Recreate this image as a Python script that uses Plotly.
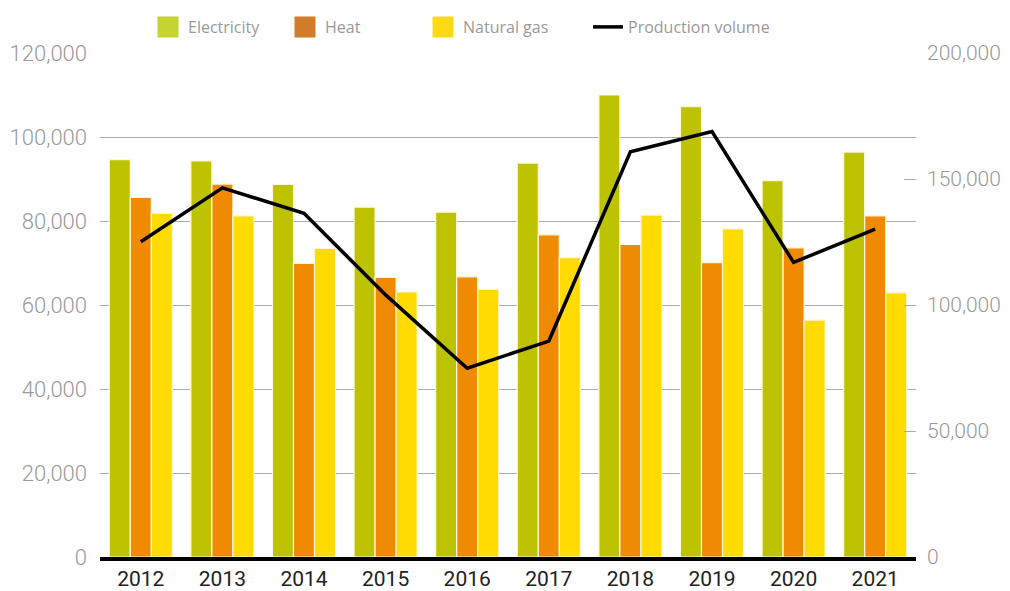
import plotly.graph_objects as go

years = ["2012", "2013", "2014", "2015", "2016", "2017", "2018", "2019", "2020", "2021"]
electricity = [94600, 94300, 88700, 83300, 82100, 93800, 110000, 107200, 89600, 96400]
heat = [85600, 88800, 69900, 66600, 66700, 76700, 74400, 70100, 73600, 81200]
natural_gas = [81800, 81200, 73500, 63100, 63700, 71300, 81400, 78100, 56400, 62900]
production_volume = [125100, 146500, 136400, 104000, 74900, 85700, 160800, 168800, 116900, 130100]

left_ticks = [0, 20000, 40000, 60000, 80000, 100000, 120000]
right_ticks = [0, 50000, 100000, 150000, 200000]

bar_colors = {"Electricity": "#BDC300", "Heat": "#F08A00", "Natural gas": "#FFDB00"}
legend_colors = {"Electricity": "#C5D42E", "Heat": "#D27D2A", "Natural gas": "#FDD916"}

# the page body adds an 8px margin; the figure is sized to fit the window
W, H = 1002, 583
L, R, T, B = 92, 94, 45, 34

def cx(px):
    return px / W

def cy(py):
    return 1 - py / H

fig = go.Figure()

series = [("Electricity", electricity), ("Heat", heat), ("Natural gas", natural_gas)]
for name, vals in series:
    fig.add_trace(go.Bar(
        x=years, y=vals, name=name, showlegend=False,
        marker=dict(color=bar_colors[name], line=dict(color="#FFF6D8", width=1.2)),
        hoverinfo="x+y",
    ))

fig.add_trace(go.Scatter(
    x=years, y=production_volume, name="Production volume", yaxis="y2",
    mode="lines", line=dict(color="#000000", width=3.5), legend="legend4",
))

legend_names = ["Electricity", "Heat", "Natural gas"]
legend_ids = ["legend", "legend2", "legend3"]
for name, lid in zip(legend_names, legend_ids):
    fig.add_trace(go.Scatter(
        x=[None], y=[None], name=name, mode="markers", legend=lid,
        marker=dict(symbol="square", size=16, color=legend_colors[name],
                    line=dict(color=legend_colors[name], width=5)),
    ))

leg_font = dict(family="Open Sans", size=16, color="#9a9a9a")
leg_common = dict(orientation="h", yanchor="middle", xanchor="left",
                  xref="container", yref="container", y=cy(19),
                  font=leg_font, itemsizing="trace", bgcolor="rgba(0,0,0,0)",
                  borderwidth=0)
fig.update_layout(
    legend=dict(x=cx(140), **leg_common),
    legend2=dict(x=cx(277), **leg_common),
    legend3=dict(x=cx(415), **leg_common),
    legend4=dict(x=cx(580), **leg_common),
)

axis_font = dict(family="Roboto", size=21, color="#9a9a9a", weight=300)

fig.update_layout(
    width=W, height=H,
    margin=dict(l=L, r=R, t=T, b=B, pad=0, autoexpand=False),
    paper_bgcolor="white", plot_bgcolor="white",
    barmode="group", bargap=0.227, bargroupgap=0,
    xaxis=dict(
        type="category", showgrid=False, showline=True, linecolor="#000000",
        linewidth=3.5, ticks="", tickfont=dict(family="Roboto", size=21, color="#222222"),
        ticklabelstandoff=0, zeroline=False, automargin=False,
    ),
    yaxis=dict(
        range=[0, 120000], tickvals=left_ticks, tickformat=",d",
        showgrid=True, gridcolor="#ababab", gridwidth=1, zeroline=False,
        ticks="", tickfont=dict(family="Roboto", size=22, color="#9a9a9a", weight=300),
        ticklabelstandoff=12, showline=False, automargin=False,
    ),
    yaxis2=dict(
        overlaying="y", side="right", range=[0, 200000], tickvals=right_ticks,
        tickformat=",d", showgrid=False, zeroline=False, showline=False,
        ticks="inside", ticklen=12, tickcolor="#ababab", tickwidth=1,
        tickfont=axis_font, ticklabelstandoff=10, automargin=False,
    ),
    hovermode="x",
)

fig.write_html("out.html")
